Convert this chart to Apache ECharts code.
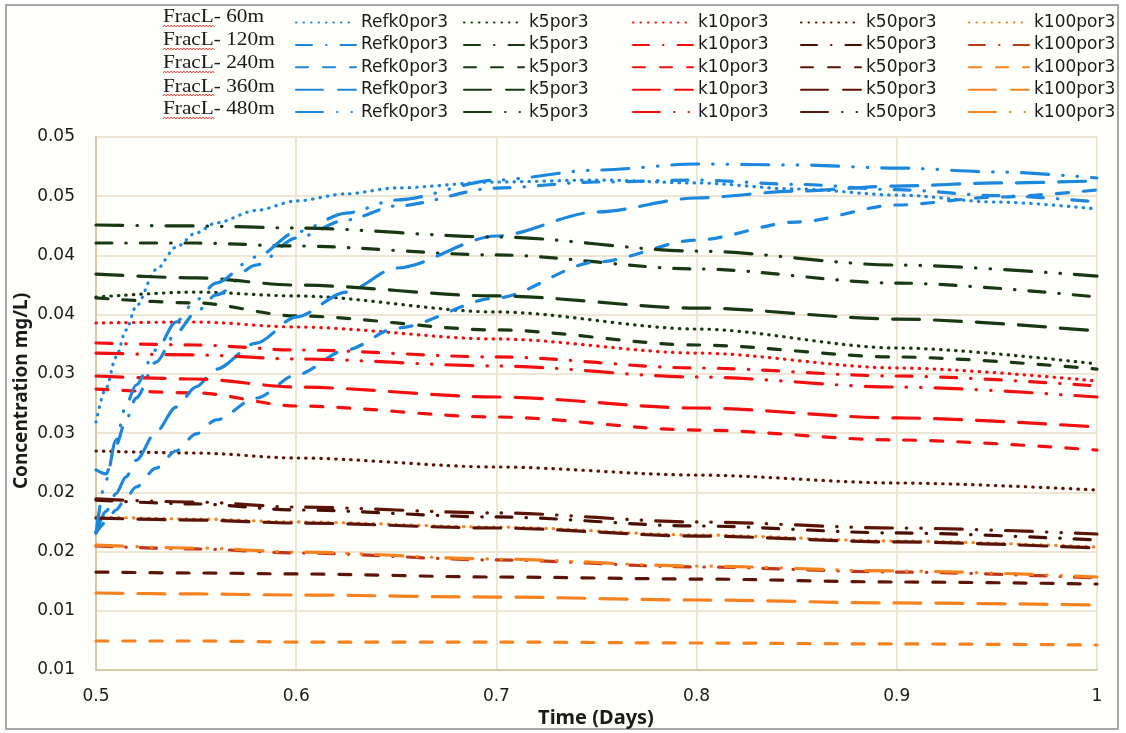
<!DOCTYPE html>
<html>
<head>
<meta charset="utf-8">
<script src="https://cdn.jsdelivr.net/npm/echarts@6/dist/echarts.min.js"></script>
<style>
  html, body { margin: 0; padding: 0; background: #ffffff; }
  #chart { width: 1126px; height: 733px; }
</style>
</head>
<body>
<div id="chart"></div>
<script>
// Sampling times (days)
const timesRef = [0.5, 0.505, 0.51, 0.515, 0.52, 0.53, 0.54, 0.55, 0.56, 0.58, 0.6, 0.625, 0.65, 0.7, 0.75, 0.8, 0.85, 0.9, 0.95, 1.0];
const timesK = [0.5, 0.55, 0.6, 0.7, 0.8, 0.9, 1.0];

// Reference case (k0), concentration mg/L
const ref60  = [0.02594, 0.0288, 0.0314, 0.0337, 0.0357, 0.0388, 0.0407, 0.0419, 0.04275, 0.0438, 0.0446, 0.0452, 0.0457, 0.0462, 0.04637, 0.04612, 0.04561, 0.0451, 0.04451, 0.04392];
const ref120 = [0.02189, 0.02155, 0.024, 0.02611, 0.02796, 0.031, 0.03345, 0.03523, 0.03666, 0.03919, 0.04147, 0.04299, 0.04418, 0.04569, 0.0462, 0.04637, 0.046, 0.04555, 0.04505, 0.04451];
const ref240 = [0.01657, 0.0175, 0.01851, 0.01952, 0.02045, 0.02205, 0.02349, 0.02493, 0.02611, 0.02796, 0.02991, 0.03202, 0.03387, 0.03641, 0.03945, 0.0413, 0.04282, 0.04426, 0.04493, 0.04553];
const ref360 = [0.01657, 0.0184, 0.0199, 0.0213, 0.0227, 0.0251, 0.0272, 0.0289, 0.0304, 0.0326, 0.0348, 0.03691, 0.03894, 0.04164, 0.04367, 0.04485, 0.04544, 0.04586, 0.04612, 0.04629];
const ref480 = [0.01657, 0.02104, 0.02442, 0.02737, 0.02906, 0.03202, 0.03438, 0.03624, 0.03767, 0.03987, 0.04198, 0.04358, 0.04468, 0.04637, 0.04721, 0.04772, 0.04764, 0.04738, 0.04705, 0.04654];

// k5
const k5_60  = [0.03649, 0.03691, 0.03658, 0.03523, 0.03379, 0.03219, 0.03084];
const k5_120 = [0.04105, 0.04105, 0.0408, 0.04004, 0.03886, 0.03767, 0.03649];
const k5_240 = [0.03641, 0.03599, 0.03489, 0.03371, 0.03244, 0.03143, 0.03041];
const k5_360 = [0.03843, 0.0381, 0.0375, 0.03658, 0.03556, 0.03463, 0.03362];
const k5_480 = [0.04257, 0.04249, 0.04232, 0.04156, 0.04037, 0.03919, 0.03826];

// k10
const k10_60  = [0.0343, 0.03438, 0.03396, 0.03295, 0.03176, 0.0305, 0.0294];
const k10_120 = [0.03261, 0.03244, 0.03202, 0.03143, 0.0305, 0.02982, 0.02898];
const k10_240 = [0.02872, 0.02839, 0.02729, 0.02636, 0.02526, 0.02442, 0.02357];
const k10_360 = [0.02982, 0.02957, 0.02889, 0.02805, 0.02712, 0.02628, 0.02552];
const k10_480 = [0.03176, 0.0316, 0.03126, 0.03067, 0.02974, 0.02889, 0.02805];

// k50
const k50_60  = [0.02349, 0.02332, 0.0229, 0.02214, 0.02146, 0.02079, 0.0202];
const k50_120 = [0.01935, 0.01902, 0.01851, 0.01792, 0.01716, 0.01657, 0.01598];
const k50_240 = [0.01327, 0.01319, 0.01311, 0.01285, 0.01268, 0.01243, 0.01226];
const k50_360 = [0.01783, 0.01766, 0.01741, 0.01699, 0.01631, 0.01581, 0.0153];
const k50_480 = [0.01944, 0.01918, 0.01876, 0.01826, 0.0175, 0.01699, 0.01648];

// k100
const k100_60  = [0.01792, 0.01775, 0.0175, 0.01707, 0.0164, 0.01589, 0.01538];
const k100_120 = [0.01547, 0.01522, 0.01488, 0.01429, 0.0137, 0.01327, 0.01277];
const k100_240 = [0.00745, 0.00745, 0.00736, 0.00736, 0.00728, 0.0072, 0.00711];
const k100_360 = [0.0115, 0.01142, 0.01133, 0.01116, 0.01091, 0.01066, 0.01049];
const k100_480 = [0.01555, 0.0153, 0.01496, 0.01437, 0.01378, 0.01336, 0.01285];

// Axis tick labels
const xTickLabels = ['0.5', '0.6', '0.7', '0.8', '0.9', '1'];
const yTickLabels = ['0.01', '0.01', '0.02', '0.02', '0.03', '0.03', '0.04', '0.04', '0.05', '0.05'];

// Legend text
const fracLabels = ['FracL- 60m', 'FracL- 120m', 'FracL- 240m', 'FracL- 360m', 'FracL- 480m'];
const fracKeys = ['60m', '120m', '240m', '360m', '480m'];
const caseNames = ['Refk0por3', 'k5por3', 'k10por3', 'k50por3', 'k100por3'];

const caseData = {
  'Refk0por3': { times: timesRef, values: [ref60, ref120, ref240, ref360, ref480] },
  'k5por3':    { times: timesK, values: [k5_60, k5_120, k5_240, k5_360, k5_480] },
  'k10por3':   { times: timesK, values: [k10_60, k10_120, k10_240, k10_360, k10_480] },
  'k50por3':   { times: timesK, values: [k50_60, k50_120, k50_240, k50_360, k50_480] },
  'k100por3':  { times: timesK, values: [k100_60, k100_120, k100_240, k100_360, k100_480] }
};

// Styling
const caseColors = {
  'Refk0por3': ['#1b87dd', '#1b87dd', '#1b87dd', '#1b87dd', '#1b87dd'],
  'k5por3':    ['#173812', '#173812', '#173812', '#173812', '#173812'],
  'k10por3':   ['#f20f0f', '#f20f0f', '#f20f0f', '#f20f0f', '#f20f0f'],
  'k50por3':   ['#5c1407', '#4a0f04', '#5c1407', '#5c1407', '#5c1407'],
  'k100por3':  ['#f5821f', '#c0381b', '#f5821f', '#f5821f', '#f5821f']
};
const dashByFrac = [
  [0.5, 7],
  [16, 14, 0.5, 14],
  [12, 15],
  [27, 15],
  [27, 14, 0.5, 14, 0.5, 14]
];

const FONT = 'DejaVu Sans';
const TEXT = '#1a1a1a';

const series = [];
fracKeys.forEach((fk, r) => {
  caseNames.forEach((cn) => {
    const d = caseData[cn];
    series.push({
      name: cn + '|' + fk,
      type: 'line',
      symbol: 'none',
      showSymbol: false,
      smooth: 0.3,
      smoothMonotone: 'x',
      animation: false,
      lineStyle: {
        color: caseColors[cn][r],
        width: 3.2,
        type: dashByFrac[r],
        cap: 'round',
        join: 'round'
      },
      itemStyle: { color: caseColors[cn][r] },
      data: d.times.map((t, j) => [t, d.values[r][j]])
    });
  });
});

// One vertical legend per case column
const legendLeft = [290, 458, 627, 795, 963];
const legends = caseNames.map((cn, i) => ({
  orient: 'vertical',
  left: legendLeft[i],
  top: 9,
  itemWidth: 60,
  itemHeight: 14,
  itemGap: 5.4,
  itemTextGap: 8,
  selectedMode: false,
  itemStyle: { opacity: 0 },
  data: fracKeys.map(fk => cn + '|' + fk),
  formatter: name => name.split('|')[0],
  textStyle: { fontFamily: FONT, fontSize: 17, color: TEXT, lineHeight: 14 }
}));

// Row labels for fracture length, with wavy underline under the first word
const rowLabelY = [17, 40.5, 63.5, 87, 109.5];
const waveY = [26, 49, 72, 95, 118];
const graphics = [
  {
    type: 'rect', z: -10, silent: true,
    shape: { x: 6, y: 5, width: 1112, height: 724 },
    style: { fill: '#fefefb', stroke: '#a8a8a8', lineWidth: 2 }
  },
  {
    type: 'text', x: 22, y: 391, rotation: Math.PI / 2, silent: true,
    style: { text: 'Concentration mg/L)', align: 'center', verticalAlign: 'middle',
             font: 'bold 19px "Noto Sans"', fill: TEXT }
  },
  {
    type: 'text', x: 596, y: 718, silent: true,
    style: { text: 'Time (Days)', align: 'center', verticalAlign: 'middle',
             font: 'bold 20px "Noto Sans"', fill: TEXT }
  }
];
fracLabels.forEach((lbl, r) => {
  graphics.push({
    type: 'text', x: 163, y: rowLabelY[r], scaleX: 1.12, silent: true,
    style: { text: lbl, align: 'left', verticalAlign: 'middle',
             font: '19px "Liberation Serif"', fill: TEXT }
  });
  const pts = [];
  for (let i = 0; i <= 32; i++) {
    pts.push([163 + i * 1.6, waveY[r] + (i % 2 === 0 ? 1 : -1)]);
  }
  graphics.push({
    type: 'polyline', silent: true,
    shape: { points: pts },
    style: { stroke: '#e8403a', lineWidth: 1, fill: null }
  });
});

const chart = echarts.init(document.getElementById('chart'), null, { renderer: 'canvas' });
chart.setOption({
  backgroundColor: '#ffffff',
  animation: false,
  graphic: graphics,
  legend: legends,
  grid: {
    left: 96, right: 29, top: 137, bottom: 63,
    show: true, borderColor: '#ece2d2', borderWidth: 2, backgroundColor: 'transparent'
  },
  xAxis: {
    type: 'value', min: 0.5, max: 1, interval: 0.1,
    axisLine: { show: true, lineStyle: { color: '#d9c8a4', width: 2 } },
    axisTick: { show: false },
    splitLine: { show: true, lineStyle: { color: '#efe5d5', width: 2 } },
    axisLabel: {
      margin: 18, fontFamily: FONT, fontSize: 17, color: TEXT,
      formatter: v => xTickLabels[Math.round((v - 0.5) / 0.1)]
    }
  },
  yAxis: {
    type: 'value', min: 0.005, max: 0.05, interval: 0.005,
    axisLine: { show: true, lineStyle: { color: '#d9c8a4', width: 2 } },
    axisTick: { show: false },
    splitLine: { show: true, lineStyle: { color: '#efe5d5', width: 2 } },
    axisLabel: {
      margin: 21, fontFamily: FONT, fontSize: 17, color: TEXT,
      formatter: v => yTickLabels[Math.round((v - 0.005) / 0.005)]
    }
  },
  series: series
});
</script>
</body>
</html>
